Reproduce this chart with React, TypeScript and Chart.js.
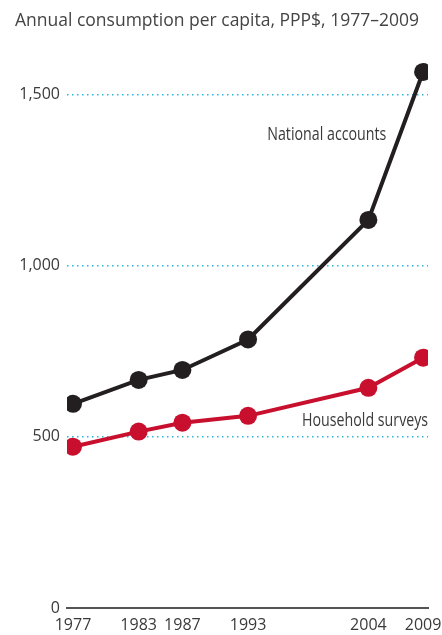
import React, { useEffect, useRef } from "react";
import { Chart, registerables } from "chart.js";

Chart.register(...registerables);

const TITLE = "Annual consumption per capita, PPP$, 1977–2009";
const years = [1977, 1983, 1987, 1993, 2004, 2009];
const nationalAccounts = [596, 666, 695, 784, 1133, 1565];
const householdSurveys = [471, 515, 541, 561, 643, 731];
const yTicks = [0, 500, 1000, 1500];
const seriesLabels = ["National accounts", "Household surveys"];
const labelAnchors = [
  { x: 2000.2, y: 1366 },
  { x: 2003.7, y: 531 },
];

const FONT = "'Open Sans', 'DejaVu Sans', sans-serif";
const BLACK = "#231f20";
const RED = "#c8102e";
const TEXT = "#3a3a3a";
const GRID = "#2fb4e0";

const labelPlugin = {
  id: "seriesLabels",
  afterDatasetsDraw(chart: any) {
    const { ctx, scales } = chart;
    seriesLabels.forEach((t, i) => {
      const a = labelAnchors[i];
      ctx.save();
      ctx.font = `18px ${FONT}`;
      ctx.fillStyle = TEXT;
      ctx.textAlign = "center";
      ctx.textBaseline = "alphabetic";
      ctx.translate(scales.x.getPixelForValue(a.x), scales.y.getPixelForValue(a.y));
      ctx.scale(0.79, 1);
      ctx.fillText(t, 0, 0);
      ctx.restore();
    });
  },
};

export default function App() {
  const ref = useRef<HTMLCanvasElement>(null);
  useEffect(() => {
    document.body.style.margin = "0";
    const chart = new Chart(ref.current!, {
      type: "line",
      data: {
        datasets: [
          {
            label: seriesLabels[0],
            data: years.map((y, i) => ({ x: y, y: nationalAccounts[i] })),
            borderColor: BLACK,
            backgroundColor: BLACK,
            borderWidth: 4,
            pointRadius: 9,
            pointBorderWidth: 0,
            tension: 0,
          },
          {
            label: seriesLabels[1],
            data: years.map((y, i) => ({ x: y, y: householdSurveys[i] })),
            borderColor: RED,
            backgroundColor: RED,
            borderWidth: 4,
            pointRadius: 9,
            pointBorderWidth: 0,
            tension: 0,
          },
        ],
      },
      options: {
        animation: false,
        responsive: false,
        maintainAspectRatio: false,
        layout: { padding: { left: 15, right: 14, top: 6, bottom: 0 } },
        plugins: {
          legend: { display: false },
          tooltip: { enabled: false },
          title: {
            display: true,
            text: TITLE,
            align: "start",
            color: "#444",
            font: { family: FONT, size: 17.5, weight: "normal" },
            padding: { top: 5, bottom: 28 },
          },
        },
        scales: {
          x: {
            type: "linear",
            min: 1976.45,
            max: 2009.45,
            afterBuildTicks: (s: any) => {
              s.ticks = years.map((v) => ({ value: v }));
            },
            afterFit: (s: any) => {
              s.height = 27;
              s.paddingLeft = 0;
              s.paddingRight = 0;
            },
            grid: { display: false, drawTicks: false },
            border: { display: true, color: "#555", width: 2 },
            ticks: {
              autoSkip: false,
              maxRotation: 0,
              padding: 8,
              color: TEXT,
              font: { family: FONT, size: 16 },
              callback: (v: any) => String(v),
            },
          },
          y: {
            type: "linear",
            min: 0,
            max: 1600,
            afterBuildTicks: (s: any) => {
              s.ticks = yTicks.map((v) => ({ value: v }));
            },
            afterFit: (s: any) => {
              s.width = 52;
              s.paddingTop = 0;
              s.paddingBottom = 0;
            },
            grid: {
              drawTicks: false,
              color: (c: any) => (c.tick && c.tick.value === 0 ? "rgba(0,0,0,0)" : GRID),
              lineWidth: 1.5,
            },
            border: { display: false, dash: [1.5, 3.5] },
            ticks: {
              padding: 7,
              color: TEXT,
              font: { family: FONT, size: 16 },
              callback: (v: any) => Number(v).toLocaleString("en-US"),
            },
          },
        },
      },
      plugins: [labelPlugin],
    } as any);
    return () => chart.destroy();
  }, []);
  return <canvas ref={ref} width={442} height={635} style={{ display: "block" }} />;
}
